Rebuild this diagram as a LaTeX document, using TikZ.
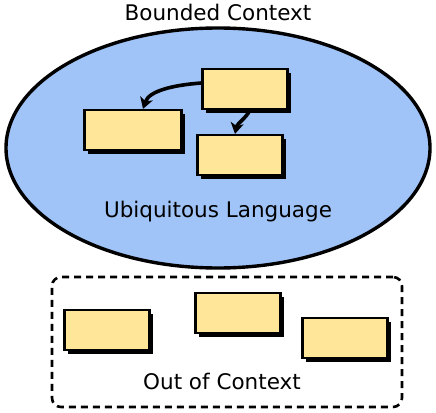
\documentclass[tikz,border=0pt]{standalone}
\usepackage{fontspec}
\setmainfont{DejaVu Sans}
\usetikzlibrary{arrows.meta,shadows,shapes.geometric}

\definecolor{ctxblue}{RGB}{160,196,248}
\definecolor{boxyellow}{RGB}{255,230,153}

\begin{document}
\begin{tikzpicture}[x=1pt, y=-1pt,
        model/.style={draw, line width=2.2pt, fill=boxyellow, minimum width=85pt, minimum height=40pt,
          drop shadow={shadow xshift=3.5pt, shadow yshift=-3.5pt, fill=black, opacity=1}},
        label/.style={font=\fontsize{21.5}{24}\selectfont, inner sep=0pt},
        link/.style={line width=3.6pt, -{Stealth[length=11pt, width=13pt, inset=3pt]}}
      ]
      \useasboundingbox (0,0) rectangle (436,412);
      \node[draw, line width=3.4pt, fill=ctxblue, ellipse, minimum width=424pt, minimum height=240pt, inner sep=0pt] (ctx) at (218,148) {};
      \node[label] (ctxname) at (218,12) {Bounded Context};
      \node[label] (lang) at (218,212) {Ubiquitous Language};
      % models inside the context
      \node[model] (src) at (245,89) {};
      \node[model, minimum width=97pt] (left) at (133,130) {};
      \node[model] (down) at (240,155) {};
      \draw[link] ([yshift=6pt]src.west) .. controls +(-28,2) and +(6,-18) .. ([xshift=10pt]left.north);
      \draw[link] ([xshift=5pt]src.south) .. controls +(-4,8) and +(2,-10) .. ([xshift=-5pt]down.north);
      % outside the context
      \node[draw, line width=2.6pt, dash pattern=on 7pt off 5pt, rounded corners=9pt, minimum width=350pt, minimum height=130pt] (outside) at (227,342) {};
      \node[model] (out1) at (107,330) {};
      \node[model] (out2) at (238,313) {};
      \node[model] (out3) at (345,338) {};
      \node[label] (outname) at (222,381) {Out of Context};
    \end{tikzpicture}
\end{document}
